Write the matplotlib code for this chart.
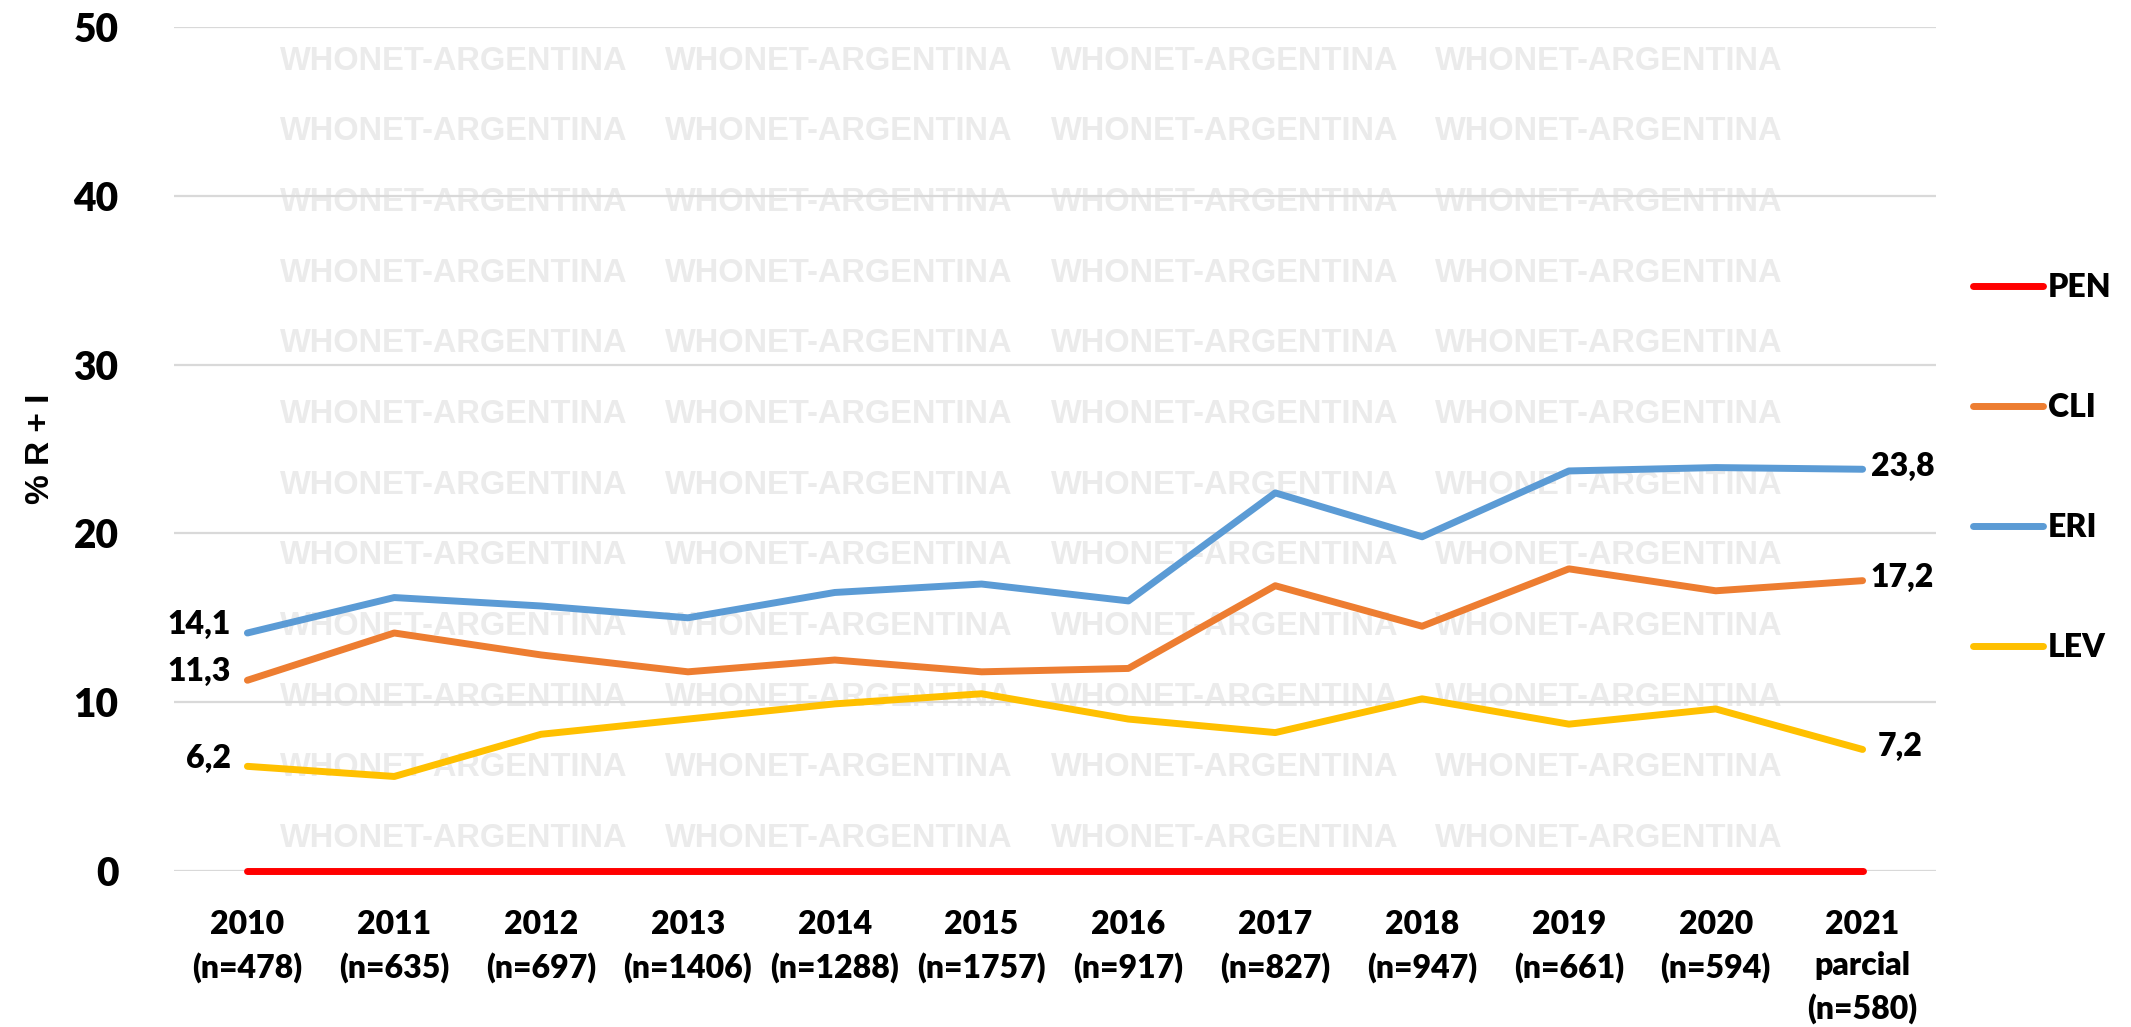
import matplotlib
matplotlib.use("Agg")
import matplotlib.pyplot as plt

# ---- data ----
years = ["2010", "2011", "2012", "2013", "2014", "2015", "2016", "2017", "2018", "2019", "2020", "2021"]
n_labels = ["(n=478)", "(n=635)", "(n=697)", "(n=1406)", "(n=1288)", "(n=1757)", "(n=917)",
            "(n=827)", "(n=947)", "(n=661)", "(n=594)", "parcial\n(n=580)"]
pen = [0, 0, 0, 0, 0, 0, 0, 0, 0, 0, 0, 0]
cli = [11.3, 14.1, 12.8, 11.8, 12.5, 11.8, 12.0, 16.9, 14.5, 17.9, 16.6, 17.2]
eri = [14.1, 16.2, 15.7, 15.0, 16.5, 17.0, 16.0, 22.4, 19.8, 23.7, 23.9, 23.8]
lev = [6.2, 5.6, 8.1, 9.0, 9.9, 10.5, 9.0, 8.2, 10.2, 8.7, 9.6, 7.2]
series_names = ["PEN", "CLI", "ERI", "LEV"]
series_colors = ["#FF0000", "#ED7D31", "#5B9BD5", "#FFC000"]
y_ticks = [0, 10, 20, 30, 40, 50]
watermark = "WHONET-ARGENTINA"

CAL = ["Lato", "DejaVu Sans"]
ARIAL = ["Liberation Sans", "DejaVu Sans"]
W = "heavy"

fig = plt.figure(figsize=(21.31, 10.27), dpi=100)
ax = fig.add_axes([174 / 2131, 1 - 871 / 1027, (1936 - 174) / 2131, (871 - 27) / 1027])
ax.set_facecolor("none")
ax.set_zorder(2)

# watermark grid (behind everything)
wm_x = [454 / 2131, 839 / 2131, 1225 / 2131, 1609 / 2131]
wm_y = [1 - (61 + 70.7 * i) / 1027 for i in range(12)]
for yy in wm_y:
    for xx in wm_x:
        fig.text(xx, yy, watermark, ha="center", va="center", fontsize=23.5,
                 fontweight="bold", family=ARIAL, color="#EBEBEB", zorder=0)

x = list(range(len(years)))
all_series = [pen, cli, eri, lev]
for vals, name, col in zip(all_series, series_names, series_colors):
    ax.plot(x, vals, color=col, lw=5, label=name, solid_capstyle="round",
            solid_joinstyle="round", zorder=3, clip_on=False)

ax.set_xlim(-0.5, len(years) - 0.5)
ax.set_ylim(0, 50)
ax.set_yticks(y_ticks)
ax.set_yticklabels([str(v) for v in y_ticks])
ax.yaxis.grid(True, color="#D9D9D9", lw=1.6, zorder=1)
ax.set_axisbelow(True)
for s in ax.spines.values():
    s.set_visible(False)
ax.tick_params(axis="y", length=0, pad=40, labelsize=28)
ax.tick_params(axis="x", length=0, pad=28, labelsize=23)
for t in ax.get_yticklabels():
    t.set_fontweight(W)
    t.set_family(CAL)

ax.set_xticks(x)
ax.set_xticklabels([f"{y}\n{n}" for y, n in zip(years, n_labels)], linespacing=1.5,
                   va="top")
for t in ax.get_xticklabels():
    t.set_fontweight(W)
    t.set_family(CAL)

ax.set_ylabel("% R + I", fontsize=24, fontweight="bold", family=ARIAL)
ax.yaxis.set_label_coords((56 - 174) / 1762, 0.5)

# data labels
def fmt(v):
    return f"{v:.1f}".replace(".", ",")

for vals in [cli, eri, lev]:
    ax.annotate(fmt(vals[0]), (x[0], vals[0]), xytext=(-12, 6), textcoords="offset points",
                ha="right", va="center", fontsize=23, fontweight=W, family=CAL)
    ax.annotate(fmt(vals[-1]), (x[-1], vals[-1]), xytext=(6, 2) if vals is not lev else (11, 2),
                textcoords="offset points", ha="left", va="center", fontsize=23,
                fontweight=W, family=CAL)

leg = ax.legend(loc="center left", bbox_to_anchor=(1.021, 0.478), frameon=False,
                prop={"family": CAL, "weight": W, "size": 23},
                handlelength=2.2, handletextpad=0.15, labelspacing=2.85,
                borderaxespad=0, borderpad=0)
for h in leg.legend_handles:
    h.set_linewidth(5)
    h.set_solid_capstyle("round")

fig.savefig("out.png", dpi=100)
